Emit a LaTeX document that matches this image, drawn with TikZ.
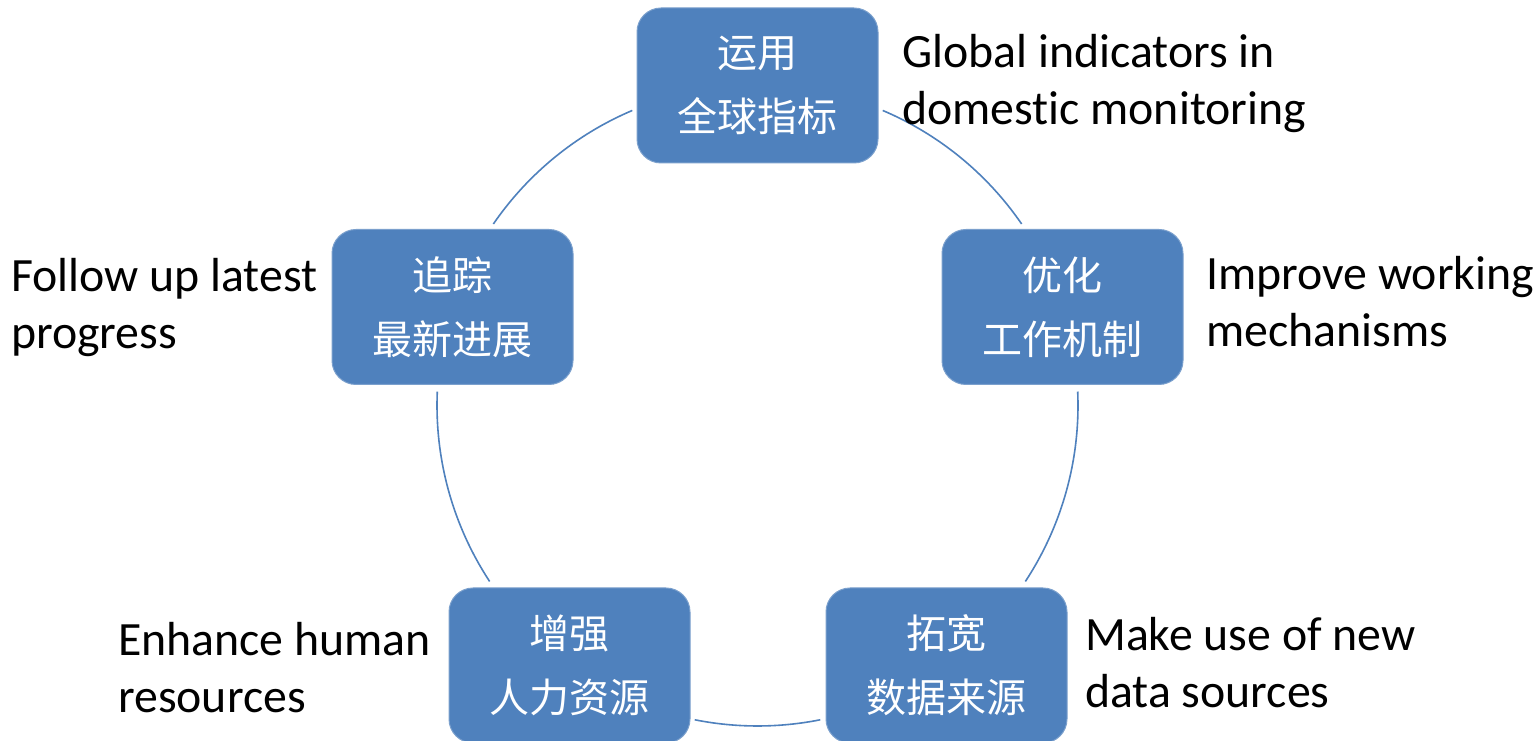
\documentclass[tikz,border=0pt]{standalone}
\usepackage{fontspec}
\setmainfont{Carlito}[Ligatures=NoCommon]
\newfontfamily\cjk{Noto Sans CJK SC}
\definecolor{boxblue}{RGB}{79,129,189}
\begin{document}
\begin{tikzpicture}[x=1pt,y=1pt,
  stepbox/.style={rectangle, rounded corners=24pt, fill=boxblue, draw=boxblue!75!white, line width=1pt,
    minimum width=241pt, minimum height=155pt, text=white, align=center,
    font=\cjk\fontsize{40}{64}\selectfont, inner sep=0pt},
  desc/.style={anchor=base west, align=left, inner sep=0pt, text=black,
    font=\fontsize{47.8}{57}\selectfont},
  cyc/.style={draw=boxblue, line width=1.6pt}]
\useasboundingbox (0,0) rectangle (1540,741);
\clip (0,0) rectangle (1540,741);
\fill[white] (0,0) rectangle (1540,741);
\coordinate (c) at (757.5,335.5);

% cycle arcs
\draw[cyc] ([shift={(67:320.5pt)}]c) arc[start angle=67, end angle=34.5, radius=320.5pt];
\draw[cyc] ([shift={(2.5:320.5pt)}]c) arc[start angle=2.5, end angle=-33.3, radius=320.5pt];
\draw[cyc] ([shift={(-78.7:320.5pt)}]c) arc[start angle=-78.7, end angle=-101.3, radius=320.5pt];
\draw[cyc] ([shift={(213.3:320.5pt)}]c) arc[start angle=213.3, end angle=177.5, radius=320.5pt];
\draw[cyc] ([shift={(145.5:320.5pt)}]c) arc[start angle=145.5, end angle=113, radius=320.5pt];

% boxes
\node[stepbox] (top) at (757.5,655.5) {运用\\全球指标};
\node[stepbox] (right) at (1062.5,434) {优化\\工作机制};
\node[stepbox] (br) at (946.5,75.5) {拓宽\\数据来源};
\node[stepbox] (bl) at (569.5,75.5) {增强\\人力资源};
\node[stepbox] (left) at (452.5,434) {追踪\\最新进展};

% descriptions (anchor = baseline of last line)
\node[desc] (dtop) at (902,616) {Global indicators in\\domestic monitoring};
\node[desc] (dright) at (1206,394) {Improve working\\mechanisms};
\node[desc] (dbr) at (1085,33) {Make use of new\\data sources};
\node[desc] (dbl) at (118,28) {Enhance human\\resources};
\node[desc] (dleft) at (11,392) {Follow up latest\\progress};
\end{tikzpicture}
\end{document}
